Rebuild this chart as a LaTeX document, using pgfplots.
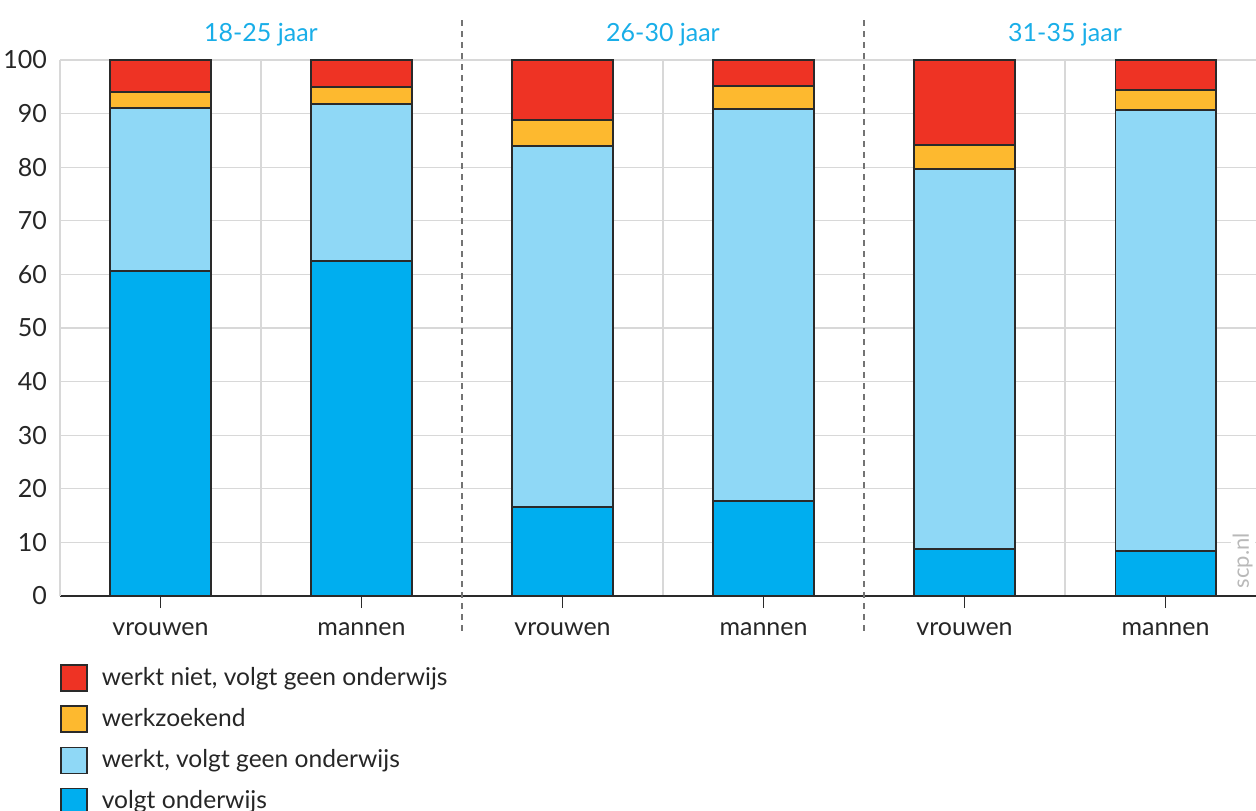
\documentclass[border=0pt]{standalone}
\usepackage{fontspec}
\setmainfont{Lato}
\usepackage{pgfplots}
\pgfplotsset{compat=1.18}
\definecolor{cblue}{HTML}{00AEEF}
\definecolor{clight}{HTML}{8FD8F6}
\definecolor{corange}{HTML}{FDB92F}
\definecolor{cred}{HTML}{EE3324}
\definecolor{ctitle}{HTML}{19AEE8}
\definecolor{cedge}{HTML}{2A2A2A}
\definecolor{cgrid}{HTML}{D8D8D8}
\begin{document}
\begin{tikzpicture}
\useasboundingbox (-30pt,-107pt) rectangle (598pt,298pt);
\begin{axis}[
  at={(0,0)}, anchor=south west,
  scale only axis, width=598pt, height=268pt,
  ybar stacked, bar width=0.5,
  xmin=-0.5, xmax=5.45, ymin=0, ymax=100,
  clip=false,
  font=\fontsize{12.5}{14}\selectfont,
  /pgf/number format/assume math mode=true,
  xtick={0,1,2,3,4,5},
  xticklabels={vrouwen,mannen,vrouwen,mannen,vrouwen,mannen},
  minor xtick={0.5,2.5,4.5},
  xminorgrids=true, xmajorgrids=false, ymajorgrids=true,
  grid style={cgrid, line width=0.65pt},
  minor grid style={cgrid, line width=0.65pt},
  ytick={0,10,...,100},
  axis x line*=bottom, axis y line*=left,
  x axis line style={cedge, line width=1pt, -},
  y axis line style={cgrid, line width=0.65pt, -},
  tick align=outside,
  major tick length=6pt, minor tick length=0pt,
  xtick style={cedge, line width=0.6pt},
  ytick style={draw=none},
  yticklabel style={xshift=3pt, text=black!85},
  xticklabel style={yshift=-4pt, text=black!85},
  every axis plot/.append style={draw=cedge, line width=0.8pt},
  reverse legend,
  legend style={at={(0,0)}, anchor=north west, xshift=0pt, yshift=-33.5pt,
    draw=none, fill=none, inner sep=0pt, row sep=6pt,
    font=\fontsize{12.3}{14}\selectfont, text=black!85,
    nodes={inner sep=2pt}},
  legend cell align=left,
  legend image code/.code={\draw[#1, draw=cedge, line width=0.7pt] (0pt,-6.5pt) rectangle (13pt,6.5pt);},
]
\addplot[fill=cblue] coordinates {(0,60.6) (1,62.5) (2,16.6) (3,17.7) (4,8.8) (5,8.4)};
\addplot[fill=clight] coordinates {(0,30.4) (1,29.3) (2,67.4) (3,73.2) (4,70.9) (5,82.3)};
\addplot[fill=corange] coordinates {(0,3.0) (1,3.2) (2,4.8) (3,4.2) (4,4.4) (5,3.7)};
\addplot[fill=cred] coordinates {(0,6.0) (1,5.0) (2,11.2) (3,4.9) (4,15.9) (5,5.6)};
\legend{\hspace{5pt}volgt onderwijs, {\hspace{5pt}werkt, volgt geen onderwijs}, \hspace{5pt}werkzoekend, {\hspace{5pt}werkt niet, volgt geen onderwijs}}
\draw[gray!90!black, line width=0.65pt, dash pattern=on 3pt off 2.5pt]
    ([yshift=20pt]axis cs:1.5,100) -- ([yshift=-20pt]axis cs:1.5,0);
\draw[gray!90!black, line width=0.65pt, dash pattern=on 3pt off 2.5pt]
    ([yshift=20pt]axis cs:3.5,100) -- ([yshift=-20pt]axis cs:3.5,0);
\node[text=ctitle, font=\fontsize{12.5}{14}\selectfont] at ([yshift=12.5pt]axis cs:0.5,100) {18-25 jaar};
\node[text=ctitle, font=\fontsize{12.5}{14}\selectfont] at ([yshift=12.5pt]axis cs:2.5,100) {26-30 jaar};
\node[text=ctitle, font=\fontsize{12.5}{14}\selectfont] at ([yshift=12.5pt]axis cs:4.5,100) {31-35 jaar};
\node[rotate=90, text=gray!55, fill=white, inner sep=1pt, font=\fontsize{11}{12}\selectfont] at (axis cs:5.383,6.6) {scp.nl};
\end{axis}
\end{tikzpicture}
\end{document}
